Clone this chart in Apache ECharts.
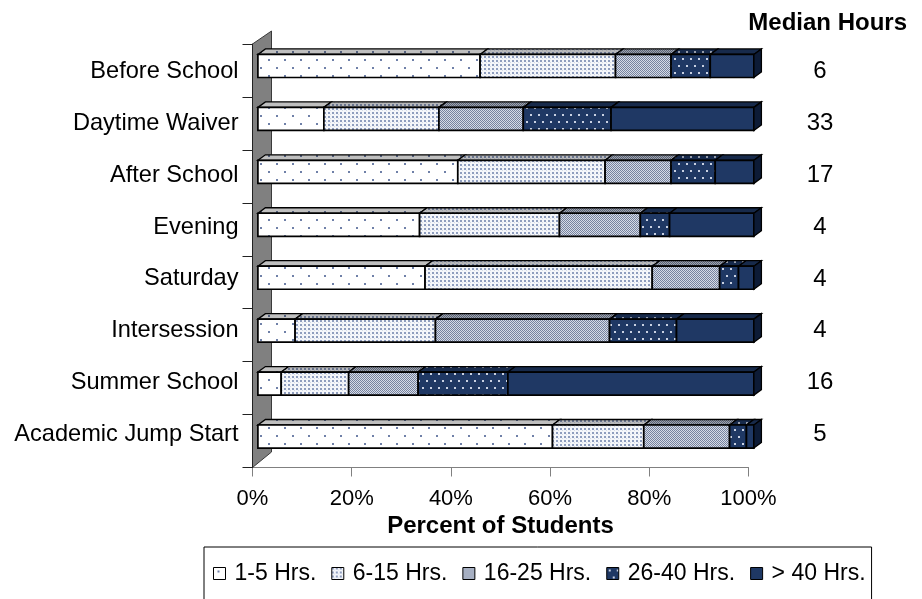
<!DOCTYPE html>
<html><head><meta charset="utf-8">
<script src="https://cdn.jsdelivr.net/npm/echarts@6/dist/echarts.min.js"></script>
<style>html,body{margin:0;padding:0;background:#fff}#c{width:922px;height:599px}</style>
</head><body><div id="c"></div>
<script>
const categories = ['Before School','Daytime Waiver','After School','Evening','Saturday','Intersession','Summer School','Academic Jump Start'];
const seriesNames = ['1-5 Hrs.','6-15 Hrs.','16-25 Hrs.','26-40 Hrs.','> 40 Hrs.'];
const hrs1to5   = [44.8, 13.3, 40.3, 32.6, 33.7, 7.5, 4.7, 59.4];
const hrs6to15  = [27.3, 23.2, 29.7, 28.2, 45.8, 28.3, 13.6, 18.4];
const hrs16to25 = [11.2, 17.0, 13.3, 16.3, 13.6, 35.1, 14.0, 17.3];
const hrs26to40 = [7.9, 17.7, 8.9, 5.9, 3.8, 13.5, 18.1, 3.4];
const hrsOver40 = [8.8, 28.8, 7.8, 17.0, 3.1, 15.6, 49.6, 1.5];
const medianHours = [6, 33, 17, 4, 4, 4, 16, 5];

const FONT = "'Liberation Sans', Arial, sans-serif";
const NAVY = '#1f3864';

function makePattern(w, h, bg, draw) {
  const c = document.createElement('canvas');
  c.width = w; c.height = h;
  const g = c.getContext('2d');
  g.fillStyle = bg; g.fillRect(0, 0, w, h);
  draw(g);
  return { image: c, repeat: 'repeat' };
}
const patterns = [
  makePattern(16, 16, '#ffffff', g => { g.fillStyle = '#6f80a8'; g.fillRect(4, 3, 2, 2); g.fillRect(12, 11, 2, 2); }),
  makePattern(4, 4, '#f4f6fa', g => { g.fillStyle = '#8e9dbe'; g.fillRect(0, 0, 2, 2); g.fillStyle = '#d4dae6'; g.fillRect(2, 2, 1, 1); }),
  makePattern(2, 2, '#d6dbe6', g => { g.fillStyle = '#76839f'; g.fillRect(0, 0, 1, 1); g.fillRect(1, 1, 1, 1); }),
  makePattern(8, 14, NAVY, g => { g.fillStyle = '#c9d1e2'; g.fillRect(2, 2, 2, 2); g.fillRect(6, 9, 2, 2); }),
  NAVY
];

const valueSets = [hrs1to5, hrs6to15, hrs16to25, hrs26to40, hrsOver40];
const cum = categories.map(() => 0);
const stackData = valueSets.map(vals => categories.map((c, i) => {
  const s = cum[i]; cum[i] += vals[i];
  return [i, s, s + vals[i]];
}));

const FDX = 5.4, FDY = -4.5;   // front plane shift of the bars
const DDX = 7.5, DDY = -5.5;   // bar depth
const BAR_RATIO = 0.435;

function renderSeg(si) {
  return function (params, api) {
    const cat = api.value(0), s = api.value(1), e = api.value(2);
    const p0 = api.coord([s, cat]), p1 = api.coord([e, cat]);
    const h = api.size([0, 1])[1] * BAR_RATIO;
    const x0 = p0[0] + FDX, x1 = p1[0] + FDX, yc = p0[1] + FDY;
    const yt = yc - h / 2, yb = yc + h / 2;
    const top = [[x0, yt], [x0 + DDX, yt + DDY], [x1 + DDX, yt + DDY], [x1, yt]];
    const ch = [
      { type: 'polygon', shape: { points: top }, style: { fill: patterns[si] } },
      { type: 'polygon', shape: { points: top }, style: { fill: 'rgba(0,0,0,0.25)', stroke: '#000', lineWidth: 1.3 } },
      { type: 'rect', shape: { x: x0, y: yt, width: x1 - x0, height: h }, style: { fill: patterns[si], stroke: '#000', lineWidth: 1.7 } }
    ];
    if (si === 4) {
      ch.push({ type: 'polygon', shape: { points: [[x1, yt], [x1 + DDX, yt + DDY], [x1 + DDX, yb + DDY], [x1, yb]] },
        style: { fill: '#0d1b36', stroke: '#000', lineWidth: 1.3 } });
    }
    return { type: 'group', children: ch };
  };
}

const series = [{
  type: 'custom', name: 'wall', coordinateSystem: 'cartesian2d', xAxisIndex: 0, yAxisIndex: 0,
  z: 1, clip: false, silent: true, data: [[0, 0, 0]],
  renderItem: function (params, api) {
    const r = params.coordSys;
    return { type: 'polygon', shape: { points: [[r.x, r.y], [r.x + 19, r.y - 13], [r.x + 19, r.y + r.height - 15.5], [r.x, r.y + r.height]] },
      style: { fill: '#808080', stroke: '#3a3a3a', lineWidth: 1 } };
  }
}];
seriesNames.forEach((n, si) => {
  series.push({
    type: 'custom', name: n, coordinateSystem: 'cartesian2d', xAxisIndex: 0, yAxisIndex: 0,
    z: 3, clip: false, data: stackData[si], encode: { x: [1, 2], y: 0 },
    itemStyle: { color: patterns[si], borderColor: '#000', borderWidth: 1 },
    renderItem: renderSeg(si)
  });
});

const chart = echarts.init(document.getElementById('c'), null, { renderer: 'canvas' });
chart.setOption({
  animation: false,
  textStyle: { fontFamily: FONT },
  title: { text: 'Median Hours', right: 10, top: 6, textStyle: { fontFamily: FONT, fontSize: 24, fontWeight: 'bold', color: '#000' } },
  grid: [
    { left: 252.5, right: 173.5, top: 44, bottom: 131.5 },
    { left: 252.5, right: 102, top: 45.5, height: 415 }
  ],
  xAxis: [
    { gridIndex: 0, type: 'value', min: 0, max: 100, interval: 20,
      axisLine: { show: true, lineStyle: { color: '#808080', width: 1 } },
      axisTick: { show: true, length: 9, lineStyle: { color: '#808080' } },
      axisLabel: { formatter: '{value}%', fontSize: 22, color: '#000', margin: 20, fontFamily: FONT },
      splitLine: { show: false },
      name: 'Percent of Students', nameLocation: 'middle', nameGap: 42,
      nameTextStyle: { fontSize: 24, fontWeight: 'bold', color: '#000', fontFamily: FONT } },
    { gridIndex: 1, type: 'value', show: false, min: 0, max: 100 }
  ],
  yAxis: [
    { gridIndex: 0, type: 'category', data: categories, inverse: true, z: 10,
      axisLine: { show: true, lineStyle: { color: '#222', width: 1 } },
      axisTick: { show: true, length: 10, lineStyle: { color: '#222' } },
      axisLabel: { show: false } },
    { gridIndex: 1, type: 'category', data: categories, inverse: true, position: 'left',
      axisLine: { show: false }, axisTick: { show: false },
      axisLabel: { fontSize: 23.6, color: '#000', margin: 14, fontFamily: FONT } },
    { gridIndex: 1, type: 'category', data: medianHours.map(String), inverse: true, position: 'right',
      axisLine: { show: false }, axisTick: { show: false },
      axisLabel: { fontSize: 24, color: '#000', margin: 0, align: 'center', fontFamily: FONT } }
  ],
  legend: {
    data: seriesNames, left: 204, top: 547, orient: 'horizontal',
    padding: [15, 6, 60, 9], itemGap: 15, itemWidth: 12, itemHeight: 12, icon: 'rect',
    borderColor: '#000', borderWidth: 1,
    itemStyle: { borderColor: '#000', borderWidth: 1 },
    textStyle: { fontSize: 23, color: '#000', fontFamily: FONT, padding: [0, 0, 0, 4] }
  },
  series: series
});
</script>
</body></html>
